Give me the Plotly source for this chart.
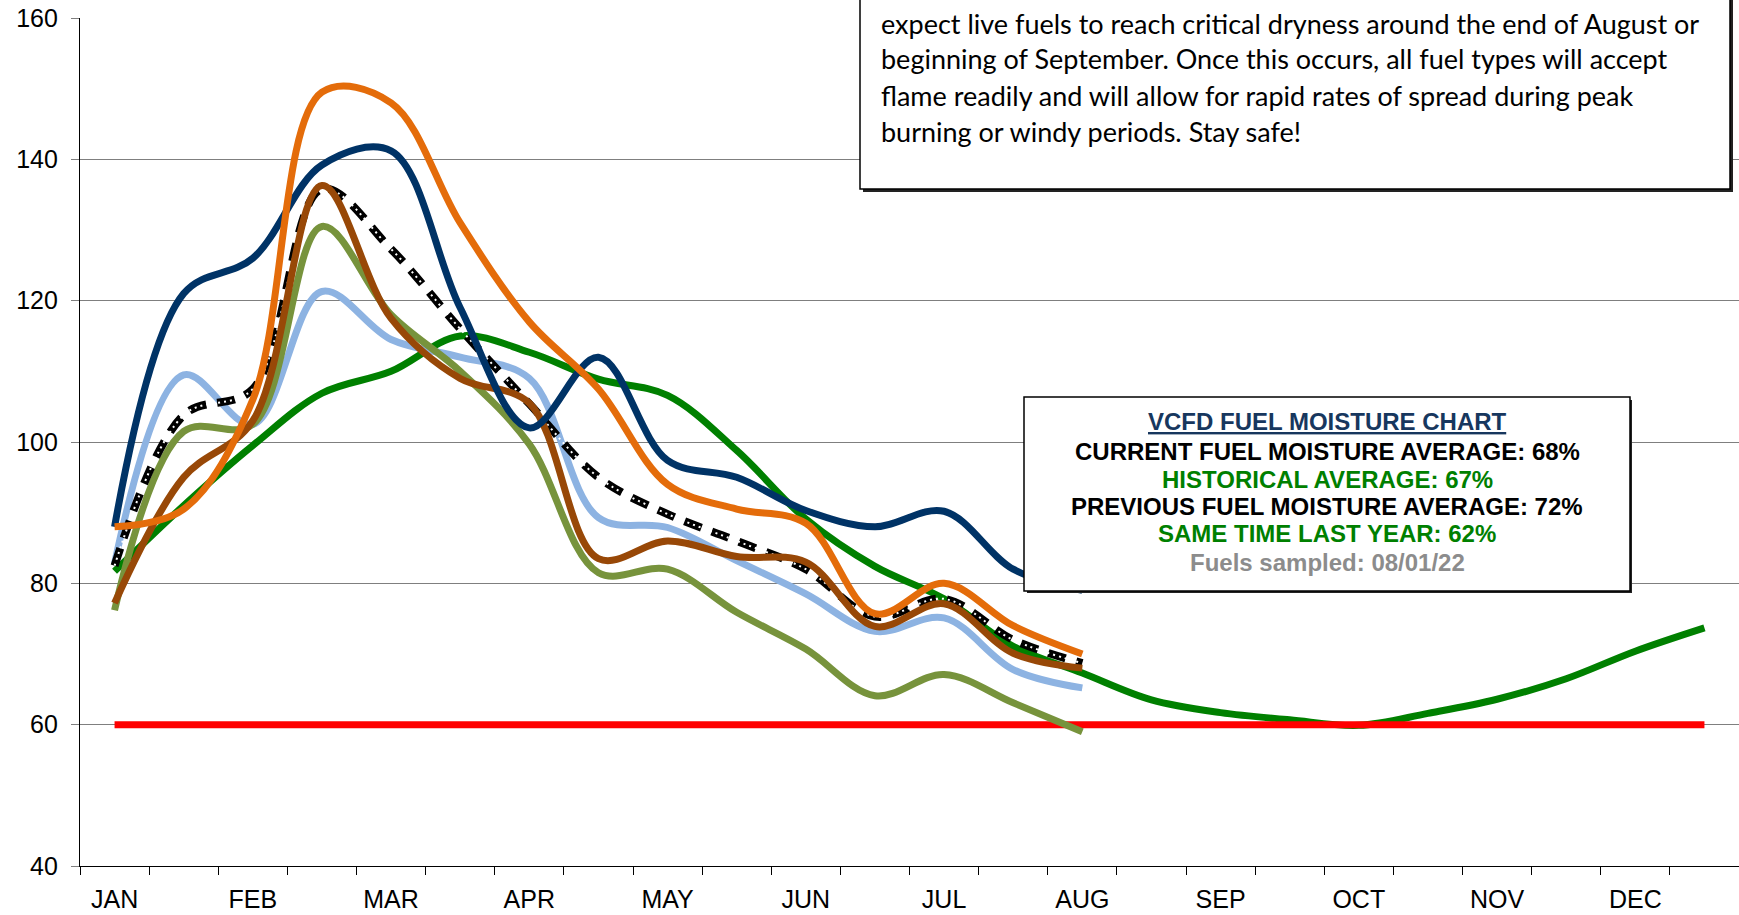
import plotly.graph_objects as go

# ---------------- data ----------------
MONTHS = ["JAN", "FEB", "MAR", "APR", "MAY", "JUN", "JUL", "AUG", "SEP", "OCT", "NOV", "DEC"]
N_POINTS = 24  # two readings per month

navy = [88, 121, 126, 139.2, 141.2, 119, 102, 112, 97.4, 95, 90.3, 88, 90.2, 82, 79]
orange = [88, 90.5, 106, 149.5, 148, 131, 117, 107.5, 94, 90.5, 88.5, 75.7, 80, 74, 70]
light_blue = [82.8, 109.5, 102.5, 121.3, 114.5, 112, 109, 89.3, 87.9, 83.2, 78.5, 73.2, 75.1, 67.8, 65.2]
olive = [76.2, 101.5, 102.5, 130.5, 118, 110, 99.7, 81.5, 82, 75.9, 70.7, 64.1, 67.1, 63.1, 59]
brown = [77.2, 95, 103, 136.3, 117.5, 109, 105.5, 83.5, 86, 83.8, 83, 73.9, 77.1, 70.1, 68]
current_avg = [82.5, 103.8, 107.5, 135.8, 127.3, 116, 105.4, 95, 89.8, 86, 82, 75.3, 77.8, 72, 68.7]
historical = [81.7, 91, 99.5, 106.9, 110, 115, 112.7, 108.9, 106.6, 98.8, 89.1, 82.4, 77.8,
              71.1, 67.3, 63.5, 61.7, 60.7, 59.9, 61.6, 63.6, 66.5, 70.4, 73.7]
critical = [60] * N_POINTS

note_lines = [
    "expect live fuels to reach critical dryness around the end of August or",
    "beginning of September. Once this occurs, all fuel types will accept",
    "flame readily and will allow for rapid rates of spread during peak",
    "burning or windy periods. Stay safe!",
]
box_title = "VCFD FUEL MOISTURE CHART"
box_lines = [
    ("CURRENT FUEL MOISTURE AVERAGE: 68%", "#000000"),
    ("HISTORICAL AVERAGE: 67%", "#008000"),
    ("PREVIOUS FUEL MOISTURE AVERAGE: 72%", "#000000"),
    ("SAME TIME LAST YEAR: 62%", "#008000"),
    ("Fuels sampled: 08/01/22", "#8C8C8C"),
]

# ---------------- layout geometry ----------------
W, H = 1739, 915
ML, MR, MT, MB = 80, 0, 18, 49
PW, PH = W - ML - MR, H - MT - MB


def px(xp):
    return (xp - ML) / PW


def py(yp):
    return (H - MB - yp) / PH


AX_FONT = "Arial, 'Liberation Sans', sans-serif"
NOTE_FONT = "Lato, 'Open Sans', sans-serif"

fig = go.Figure()


def add_line(vals, color, width=7, dash=None):
    fig.add_trace(go.Scatter(
        x=list(range(len(vals))), y=vals, mode="lines",
        line=dict(color=color, width=width, shape="spline", smoothing=1.0, dash=dash),
        hoverinfo="skip", showlegend=False))


add_line(historical, "#008000")
add_line(critical, "#FF0000")
add_line(light_blue, "#8DB3E2")
add_line(olive, "#77933C")
add_line(current_avg, "#000000", 8, dash="18px,11px")
add_line(current_avg, "#FFFFFF", 2, dash="2px,4px")
add_line(brown, "#984807")
add_line(navy, "#003366")
add_line(orange, "#E46C0A")

# ---------------- axes ----------------
fig.update_xaxes(
    range=[-0.5, N_POINTS - 0.5],
    tickmode="array",
    tickvals=[2 * i for i in range(len(MONTHS))],
    ticktext=MONTHS,
    ticks="",
    showgrid=False,
    showline=True, linecolor="black", linewidth=1.2,
    tickfont=dict(family=AX_FONT, size=25, color="black"),
    ticklabelstandoff=11,
    minor=dict(tickmode="array", tickvals=[i - 0.5 for i in range(N_POINTS + 1)],
               ticks="outside", ticklen=8, tickcolor="black", tickwidth=1, showgrid=False),
    zeroline=False,
)
fig.update_yaxes(
    range=[40, 160], dtick=20, tick0=40,
    showgrid=True, gridcolor="#7f7f7f", gridwidth=1.3,
    showline=True, linecolor="black", linewidth=1.2,
    ticks="outside", ticklen=8, tickcolor="#7f7f7f", tickwidth=1.3,
    tickfont=dict(family=AX_FONT, size=25, color="black"),
    ticklabelstandoff=8,
    zeroline=False,
)

# ---------------- text boxes ----------------
shapes = []
# top note box (shadow + box)
shapes.append(dict(type="rect", xref="paper", yref="paper", layer="above",
                   x0=px(863), x1=px(1733), y0=py(192), y1=py(-20),
                   fillcolor="#222222", line=dict(width=0)))
shapes.append(dict(type="rect", xref="paper", yref="paper", layer="above",
                   x0=px(860), x1=px(1730), y0=py(189), y1=py(-20),
                   fillcolor="white", line=dict(color="black", width=1.5)))
# legend/info box
shapes.append(dict(type="rect", xref="paper", yref="paper", layer="above",
                   x0=px(1027), x1=px(1632), y0=py(593), y1=py(400),
                   fillcolor="#222222", line=dict(width=0)))
shapes.append(dict(type="rect", xref="paper", yref="paper", layer="above",
                   x0=px(1024), x1=px(1630), y0=py(591), y1=py(397),
                   fillcolor="white", line=dict(color="black", width=1.5)))
fig.update_layout(shapes=shapes)

annotations = []
note_y = [23, 59, 95, 131]
for text, yy in zip(note_lines, note_y):
    annotations.append(dict(xref="paper", yref="paper", x=px(879), y=py(yy),
                            xanchor="left", yanchor="middle", showarrow=False,
                            text=text, font=dict(family=NOTE_FONT, size=27, color="black")))

cx = px(1327)
annotations.append(dict(xref="paper", yref="paper", x=cx, y=py(421.5),
                        xanchor="center", yanchor="middle", showarrow=False,
                        text="<b><u>" + box_title + "</u></b>",
                        font=dict(family=AX_FONT, size=24, color="#17375E")))
box_y = [451, 479, 506, 534, 562]
for (text, col), yy in zip(box_lines, box_y):
    annotations.append(dict(xref="paper", yref="paper", x=cx, y=py(yy),
                            xanchor="center", yanchor="middle", showarrow=False,
                            text="<b>" + text + "</b>",
                            font=dict(family=AX_FONT, size=24, color=col)))

fig.update_layout(
    annotations=annotations,
    width=W, height=H,
    margin=dict(l=ML, r=MR, t=MT, b=MB, pad=0),
    paper_bgcolor="white", plot_bgcolor="white",
    showlegend=False,
)

fig.write_html(
    "out.html",
    config={"displayModeBar": False},
    post_script="document.body.style.margin='0';document.body.style.overflow='hidden';",
)
